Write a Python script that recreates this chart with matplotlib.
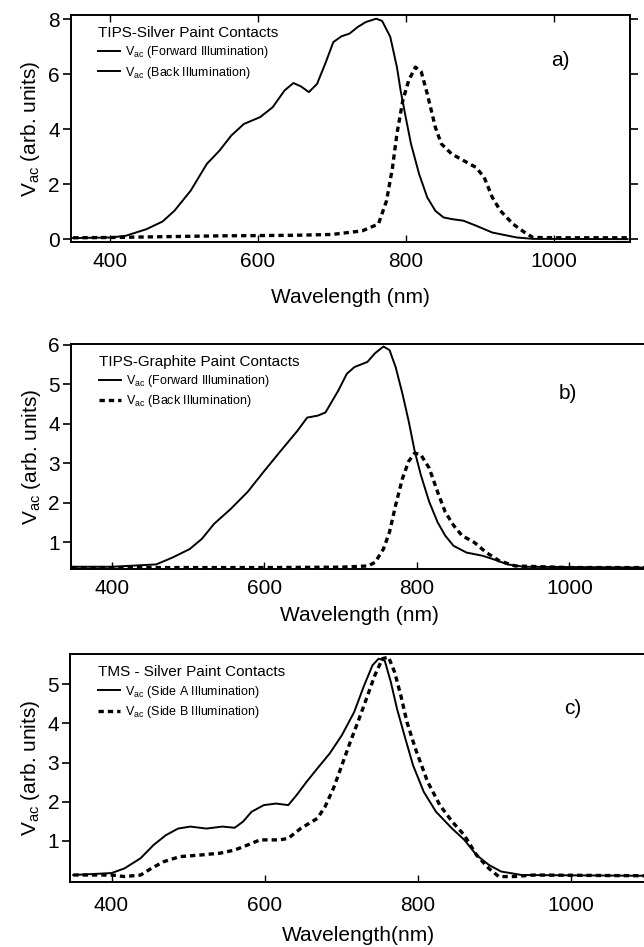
import matplotlib.pyplot as plt
from matplotlib.lines import Line2D

plt.rcParams['font.family'] = ['Liberation Sans', 'DejaVu Sans']
plt.rcParams['mathtext.fontset'] = 'custom'
plt.rcParams['mathtext.rm'] = 'Liberation Sans'
plt.rcParams['mathtext.it'] = 'Liberation Sans'

# Panel a) TIPS - silver paint contacts
wl_a_fwd = [350, 400, 421, 449, 471, 487, 509, 531, 548, 564, 581, 603, 620, 636, 648,
            658, 669, 680, 691, 702, 713, 724, 735, 746, 760, 768, 779, 788, 793, 799,
            807, 818, 829, 840, 851, 862, 878, 895, 917, 950, 972, 1100]
va_a_fwd = [0.04, 0.06, 0.12, 0.36, 0.64, 1.03, 1.76, 2.74, 3.22, 3.77, 4.19, 4.44, 4.80,
            5.41, 5.68, 5.56, 5.35, 5.65, 6.38, 7.17, 7.38, 7.48, 7.72, 7.90, 8.02, 7.94,
            7.36, 6.26, 5.41, 4.56, 3.47, 2.37, 1.52, 1.03, 0.79, 0.73, 0.67, 0.49, 0.24,
            0.06, 0.01, 0.0]
wl_a_back = [350, 400, 450, 500, 550, 600, 650, 700, 741, 763, 774, 782, 788, 796, 804,
             813, 821, 829, 840, 848, 862, 878, 895, 906, 917, 928, 945, 961, 972, 1000,
             1050, 1100]
va_a_back = [0.05, 0.06, 0.08, 0.10, 0.12, 0.13, 0.14, 0.17, 0.30, 0.55, 1.40, 2.60, 3.83,
             5.05, 5.78, 6.26, 6.08, 5.29, 4.07, 3.47, 3.10, 2.86, 2.61, 2.25, 1.52, 1.03,
             0.55, 0.24, 0.06, 0.05, 0.05, 0.05]

# Panel b) TIPS - graphite paint contacts
wl_b_fwd = [347, 400, 458, 480, 502, 518, 534, 556, 578, 599, 621, 643, 656, 670, 680,
            697, 708, 718, 735, 745, 756, 764, 772, 781, 789, 797, 805, 816, 827, 837,
            848, 865, 886, 902, 919, 940, 1102]
va_b_fwd = [0.38, 0.38, 0.44, 0.62, 0.83, 1.09, 1.47, 1.85, 2.28, 2.79, 3.31, 3.82, 4.16,
            4.21, 4.29, 4.85, 5.27, 5.44, 5.57, 5.79, 5.96, 5.87, 5.44, 4.76, 4.08, 3.31,
            2.71, 2.03, 1.51, 1.17, 0.91, 0.74, 0.66, 0.56, 0.44, 0.38, 0.36]
wl_b_back = [347, 400, 500, 600, 700, 735, 745, 756, 764, 772, 781, 789, 797, 805, 816,
             827, 837, 848, 859, 875, 891, 908, 929, 1000, 1102]
va_b_back = [0.36, 0.36, 0.36, 0.36, 0.37, 0.40, 0.49, 0.83, 1.26, 1.94, 2.62, 3.05, 3.26,
             3.22, 2.88, 2.28, 1.77, 1.43, 1.17, 1.00, 0.74, 0.53, 0.40, 0.36, 0.36]

# Panel c) TMS - silver paint contacts
wl_c_a = [350, 400, 417, 438, 455, 471, 487, 503, 524, 545, 561, 572, 583, 599, 615, 631,
          642, 655, 669, 685, 701, 717, 730, 741, 749, 757, 765, 773, 784, 794, 808, 824,
          845, 861, 877, 893, 909, 936, 1100]
va_c_a = [0.12, 0.17, 0.29, 0.55, 0.89, 1.14, 1.31, 1.36, 1.31, 1.36, 1.33, 1.49, 1.74,
          1.91, 1.95, 1.91, 2.17, 2.51, 2.85, 3.23, 3.70, 4.29, 4.97, 5.49, 5.66, 5.61,
          5.06, 4.38, 3.61, 2.93, 2.25, 1.74, 1.31, 1.02, 0.63, 0.38, 0.21, 0.12, 0.10]
wl_c_b = [350, 400, 417, 438, 452, 468, 489, 515, 542, 561, 578, 594, 620, 631, 647, 669,
          679, 690, 701, 712, 722, 733, 744, 754, 762, 770, 778, 786, 797, 813, 829, 845,
          861, 877, 893, 906, 925, 952, 1100]
va_c_b = [0.12, 0.12, 0.08, 0.12, 0.29, 0.46, 0.59, 0.63, 0.68, 0.76, 0.89, 1.02, 1.02,
          1.06, 1.31, 1.57, 1.87, 2.34, 2.93, 3.53, 4.04, 4.63, 5.23, 5.66, 5.70, 5.31,
          4.72, 4.04, 3.36, 2.51, 1.91, 1.49, 1.14, 0.63, 0.29, 0.08, 0.08, 0.12, 0.10]

xticks = [400, 600, 800, 1000]
ylabel = r'V$_{\mathrm{ac}}$ (arb. units)'

fig = plt.figure(figsize=(6.44, 9.47), dpi=100)
ax_a = fig.add_axes([0.110, 0.744, 0.868, 0.240])
ax_b = fig.add_axes([0.110, 0.399, 0.895, 0.238])
ax_c = fig.add_axes([0.109, 0.069, 0.896, 0.240])

solid = dict(color='black', lw=1.4)
dashed = dict(color='black', lw=2.4, linestyle=(0, (1.6, 1.2)))

ax_a.plot(wl_a_fwd, va_a_fwd, **solid)
ax_a.plot(wl_a_back, va_a_back, **dashed)
ax_b.plot(wl_b_fwd, va_b_fwd, **solid)
ax_b.plot(wl_b_back, va_b_back, **dashed)
ax_c.plot(wl_c_a, va_c_a, **solid)
ax_c.plot(wl_c_b, va_c_b, **dashed)

ax_a.set_xlim(347, 1103)
ax_a.set_ylim(-0.12, 8.15)
ax_a.set_yticks([0, 2, 4, 6, 8])
ax_b.set_xlim(346, 1102)
ax_b.set_ylim(0.32, 6.03)
ax_b.set_yticks([1, 2, 3, 4, 5, 6])
ax_c.set_xlim(346, 1100)
ax_c.set_ylim(-0.05, 5.77)
ax_c.set_yticks([1, 2, 3, 4, 5])

for ax in (ax_a, ax_b, ax_c):
    ax.set_xticks(xticks)
    ax.tick_params(axis='y', direction='out', length=6, width=1.2, labelsize=15, pad=2)
    ax.tick_params(axis='x', direction='in', length=5, width=1, labelsize=15, pad=7)
    ax.set_ylabel(ylabel, fontsize=15, labelpad=4)
    for s in ax.spines.values():
        s.set_linewidth(1.4)

# panel a has ticks on all four sides
ax_a.tick_params(top=True, right=True)
ax_b.spines['right'].set_visible(False)
ax_c.spines['right'].set_visible(False)
ax_c.tick_params(axis='x', pad=10)

ax_a.set_xlabel('Wavelength (nm)', fontsize=15, labelpad=12)
ax_b.set_xlabel('Wavelength (nm)', fontsize=15, labelpad=6)
ax_c.set_xlabel('Wavelength(nm)', fontsize=15, labelpad=8)

ax_a.text(0.875, 0.80, 'a)', transform=ax_a.transAxes, fontsize=15, ha='center', va='center')
ax_b.text(0.862, 0.78, 'b)', transform=ax_b.transAxes, fontsize=15, ha='center', va='center')
ax_c.text(0.871, 0.76, 'c)', transform=ax_c.transAxes, fontsize=15, ha='center', va='center')


def add_legend(ax, title, labels, back_dashed):
    h1 = Line2D([], [], **solid)
    h2 = Line2D([], [], **(dashed if back_dashed else solid))
    leg = ax.legend([h1, h2], labels, title=title, loc='upper left',
                    bbox_to_anchor=(0.035, 0.985), frameon=False, fontsize=9,
                    title_fontsize=11, handlelength=1.8, handletextpad=0.4,
                    labelspacing=0.35, borderaxespad=0.2, alignment='left')
    return leg


add_legend(ax_a, 'TIPS-Silver Paint Contacts',
           [r'V$_{\mathrm{ac}}$ (Forward Illumination)', r'V$_{\mathrm{ac}}$ (Back Illumination)'],
           False)
add_legend(ax_b, 'TIPS-Graphite Paint Contacts',
           [r'V$_{\mathrm{ac}}$ (Forward Illumination)', r'V$_{\mathrm{ac}}$ (Back Illumination)'],
           True)
add_legend(ax_c, 'TMS - Silver Paint Contacts',
           [r'V$_{\mathrm{ac}}$ (Side A Illumination)', r'V$_{\mathrm{ac}}$ (Side B Illumination)'],
           True)

fig.savefig('out.png', dpi=100)
